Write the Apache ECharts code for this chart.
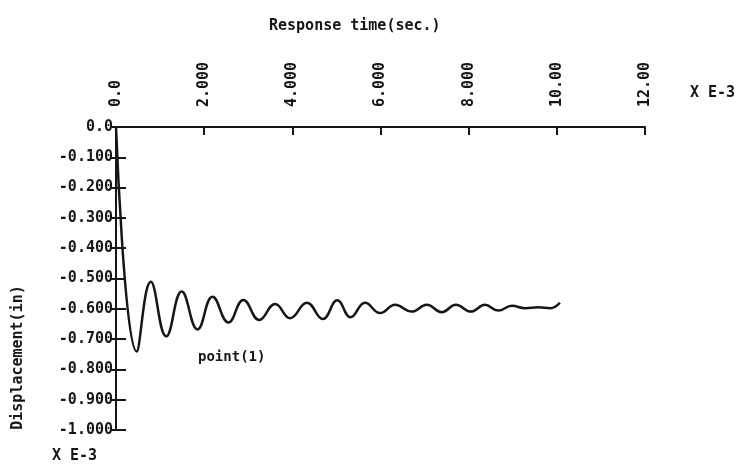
<!DOCTYPE html>
<html>
<head>
<meta charset="utf-8">
<script src="https://cdn.jsdelivr.net/npm/echarts@6/dist/echarts.min.js"></script>
<style>
html,body{margin:0;padding:0;background:#fff;}
#chart{width:755px;height:470px;}
</style>
</head>
<body>
<div id="chart"></div>
<script>
// Response time (x E-3 sec) and displacement (x E-3 in)
var times = [0, 0.47, 0.79, 1.14, 1.49, 1.85, 2.19, 2.55, 2.89, 3.25, 3.61, 3.95, 4.33, 4.69, 5.02, 5.32, 5.65, 5.99, 6.33, 6.71, 7.05, 7.39, 7.71, 8.05, 8.37, 8.67, 8.98, 9.28, 9.58, 9.85, 10.07];
var disp = [0, -0.741, -0.511, -0.691, -0.543, -0.668, -0.560, -0.645, -0.571, -0.637, -0.584, -0.631, -0.580, -0.634, -0.572, -0.628, -0.580, -0.614, -0.587, -0.609, -0.587, -0.611, -0.587, -0.609, -0.587, -0.606, -0.590, -0.598, -0.595, -0.598, -0.580];
var xTicks = [0, 2, 4, 6, 8, 10, 12];
var xTickLabels = ['0.0', '2.000', '4.000', '6.000', '8.000', '10.00', '12.00'];
var yTickLabels = ['0.0', '-0.100', '-0.200', '-0.300', '-0.400', '-0.500', '-0.600', '-0.700', '-0.800', '-0.900', '-1.000'];

var FONT = 'DejaVu Sans Mono';
var INK = '#161616';

var seriesData = times.map(function (t, i) { return [t, disp[i]]; });

var chart = echarts.init(document.getElementById('chart'), null, {renderer: 'canvas'});
chart.setOption({
  backgroundColor: '#fff',
  animation: false,
  title: {
    text: 'Response time(sec.)',
    left: 264, top: 14,
    textStyle: {fontFamily: FONT, fontWeight: 'bold', fontSize: 15, color: INK}
  },
  grid: {left: 116, top: 127, width: 529, height: 303, containLabel: false},
  xAxis: {
    type: 'value', position: 'top', min: 0, max: 12, interval: 2,
    axisLine: {show: true, lineStyle: {color: INK, width: 2}},
    axisTick: {show: true, inside: true, length: 8, lineStyle: {color: INK, width: 2}},
    splitLine: {show: false},
    axisLabel: {
      rotate: 90, margin: 20, color: INK,
      fontFamily: FONT, fontWeight: 'bold', fontSize: 15,
      formatter: function (v) { var i = xTicks.indexOf(Math.round(v)); return i >= 0 ? xTickLabels[i] : ''; }
    }
  },
  yAxis: [{
    type: 'value', min: -1, max: 0, interval: 0.1, position: 'left', offset: 0,
    axisLine: {show: true, lineStyle: {color: INK, width: 2}},
    axisTick: {show: true, inside: false, length: 6, lineStyle: {color: INK, width: 2}},
    splitLine: {show: false},
    name: 'Displacement(in)', nameLocation: 'middle', nameRotate: 90, nameGap: 90,
    nameTextStyle: {fontFamily: FONT, fontWeight: 'bold', fontSize: 15, color: INK, padding: [0, 0, 0, -158]},
    axisLabel: {
      margin: 3, color: INK, fontFamily: FONT, fontWeight: 'bold', fontSize: 15,
      formatter: function (v) { var i = Math.round(-v * 10); return yTickLabels[i]; }
    }
  }, {
    type: 'value', min: -1, max: 0, interval: 0.1, position: 'left', offset: 0,
    axisLine: {show: false},
    axisTick: {show: true, inside: true, length: 10, lineStyle: {color: INK, width: 2}},
    splitLine: {show: false},
    axisLabel: {show: false}
  }],
  series: [{
    type: 'line', data: seriesData, yAxisIndex: 0,
    smooth: 0.45, showSymbol: false, symbol: 'none',
    lineStyle: {color: INK, width: 2.5}
  }],
  graphic: [
    {type: 'text', left: 690, top: 86, style: {text: 'X E-3', font: 'bold 15px "DejaVu Sans Mono"', fill: INK}},
    {type: 'text', left: 52, top: 449, style: {text: 'X E-3', font: 'bold 15px "DejaVu Sans Mono"', fill: INK}},
    {type: 'text', left: 198, top: 350, style: {text: 'point(1)', font: 'bold 14px "DejaVu Sans Mono"', fill: INK}}
  ]
});
</script>
</body>
</html>
